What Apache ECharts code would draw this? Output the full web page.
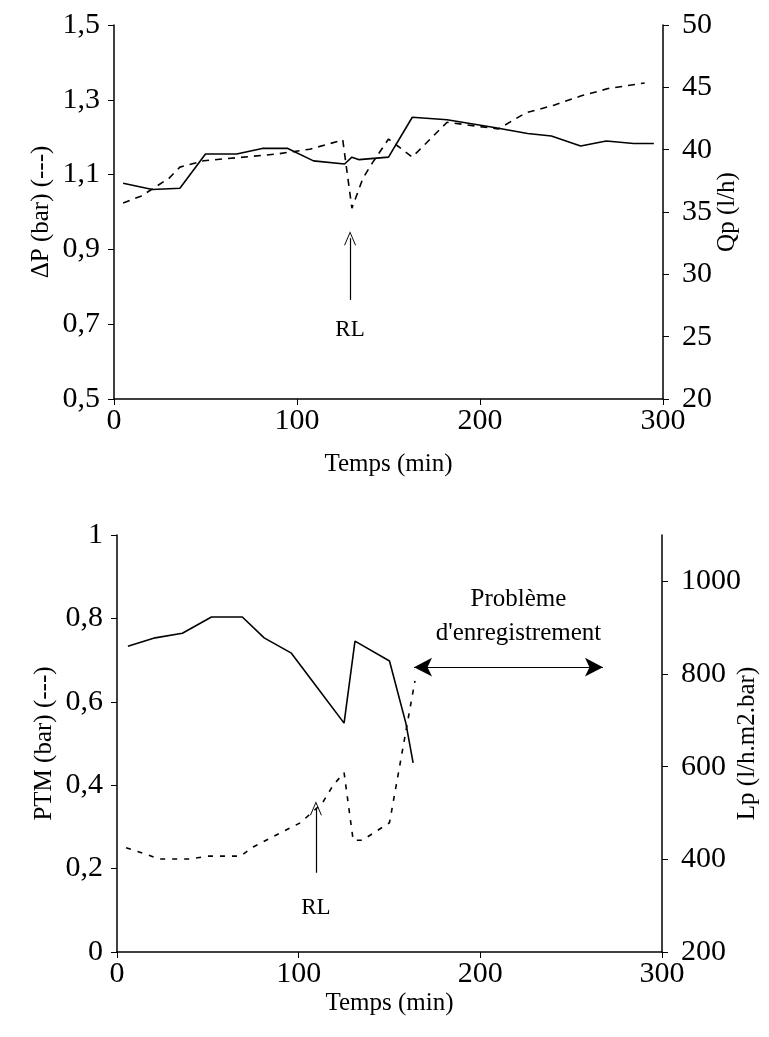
<!DOCTYPE html>
<html>
<head>
<meta charset="utf-8">
<script src="https://cdn.jsdelivr.net/npm/echarts@6/dist/echarts.min.js"></script>
<style>
  html, body { margin: 0; padding: 0; background: #fff; }
  #chart { width: 769px; height: 1037px; }
</style>
</head>
<body>
<div id="chart"></div>
<script>
// graphe du haut : deltaP (pointillé, axe gauche) et Qp (trait plein, axe droit)
var tpsDP = [5, 15, 30, 36, 49, 89, 107, 116, 125, 130, 136, 141, 150, 163, 182, 210, 225, 240, 255, 270, 290];
var dP = [1.024, 1.043, 1.09, 1.12, 1.137, 1.155, 1.168, 1.18, 1.193, 1.01, 1.09, 1.13, 1.195, 1.147, 1.24, 1.222, 1.265, 1.285, 1.31, 1.33, 1.345];

var tpsQp = [5, 21, 36, 50, 67, 81, 95, 109, 126, 130, 134, 150, 163, 182, 207, 226, 239, 255, 269, 284, 295];
var qp = [37.3, 36.8, 36.9, 39.65, 39.65, 40.1, 40.1, 39.1, 38.85, 39.4, 39.2, 39.4, 42.6, 42.4, 41.8, 41.3, 41.1, 40.3, 40.7, 40.5, 40.5];

// graphe du bas : PTM (pointillé, axe gauche) et Lp (trait plein, axe droit)
var tpsPTM = [5, 17, 23, 40, 50, 68, 75, 91, 101, 113, 119, 125, 130, 135, 150, 164];
var ptm = [0.25, 0.233, 0.223, 0.223, 0.23, 0.23, 0.252, 0.288, 0.31, 0.357, 0.40, 0.43, 0.268, 0.268, 0.31, 0.65];

var tpsLp = [6, 21, 36, 52, 69, 81, 96, 110, 125, 131, 150, 159, 163];
var lp = [860, 878, 888, 923, 923, 878, 845, 772, 694, 871, 828, 694, 608];

// graduations
var ticksDP = [0.5, 0.7, 0.9, 1.1, 1.3, 1.5];
var ticksQp = [20, 25, 30, 35, 40, 45, 50];
var ticksPTM = [0, 0.2, 0.4, 0.6, 0.8, 1];
var ticksLp = [200, 400, 600, 800, 1000];

function paires(xs, ys) {
  return xs.map(function (x, i) { return [x, ys[i]]; });
}

var police = 'Liberation Serif';
var virgule = function (v) { return String(v).replace('.', ','); };
var chevron = 'path://M0,12 L6,0 L12,12 L11,12 L6,2 L1,12 Z';

function axeX(grid, nameGap) {
  return {
    type: 'value', gridIndex: grid, min: 0, max: 300, interval: 100,
    name: 'Temps (min)', nameLocation: 'middle', nameGap: nameGap, nameMoveOverlap: false,
    nameTextStyle: { color: '#000', fontFamily: police, fontSize: 25 },
    axisLine: { lineStyle: { color: '#000', width: 1.5 } },
    axisTick: { length: 6, lineStyle: { color: '#000' } },
    axisLabel: { color: '#000', fontFamily: police, fontSize: 30, margin: 7 },
    splitLine: { show: false }
  };
}

function axeY(grid, pos, nom, min, max, ticks, nameGap, margin) {
  return {
    type: 'value', gridIndex: grid, position: pos, min: min, max: max,
    name: nom, nameLocation: 'middle', nameRotate: 90, nameGap: nameGap, nameMoveOverlap: false,
    nameTextStyle: { color: '#000', fontFamily: police, fontSize: 25 },
    axisLine: { show: true, lineStyle: { color: '#000', width: 1.5 } },
    axisTick: { show: true, length: 6, customValues: ticks, lineStyle: { color: '#000' } },
    axisLabel: { color: '#000', fontFamily: police, fontSize: 30, margin: margin,
                 customValues: ticks, formatter: virgule },
    splitLine: { show: false }
  };
}

var myChart = echarts.init(document.getElementById('chart'));

var option = {
  backgroundColor: '#fff',
  animation: false,
  grid: [
    { left: 114, top: 25, width: 549, height: 374, outerBoundsMode: 'none' },
    { left: 117, top: 535, width: 545, height: 417, outerBoundsMode: 'none' }
  ],
  xAxis: [axeX(0, 53), axeX(1, 39)],
  yAxis: [
    axeY(0, 'left', 'ΔP (bar) (---)', 0.5, 1.5, ticksDP, 60, 14),
    axeY(0, 'right', 'Qp (l/h)', 20, 50, ticksQp, 52, 19),
    axeY(1, 'left', 'PTM (bar) (---)', 0, 1, ticksPTM, 60, 14),
    axeY(1, 'right', 'Lp (l/h.m2.bar)', 200, 1100, ticksLp, 73, 19)
  ],
  series: [
    {
      name: 'ΔP', type: 'line', xAxisIndex: 0, yAxisIndex: 0,
      data: paires(tpsDP, dP), showSymbol: false,
      lineStyle: { color: '#000', width: 1.6, type: [7, 6] },
      markLine: {
        silent: true, symbolSize: [12, 14],
        lineStyle: { color: '#000', width: 1.2, type: 'solid' },
        label: { show: false },
        data: [[{ coord: [129, 0.765], symbol: 'none' }, { coord: [129, 0.93], symbol: chevron }]]
      },
      markPoint: {
        silent: true, symbol: 'circle', symbolSize: 0,
        label: { show: true, formatter: 'RL', color: '#000', fontFamily: police, fontSize: 23 },
        data: [{ coord: [129, 0.685] }]
      }
    },
    {
      name: 'Qp', type: 'line', xAxisIndex: 0, yAxisIndex: 1,
      data: paires(tpsQp, qp), showSymbol: false,
      lineStyle: { color: '#000', width: 1.6 }
    },
    {
      name: 'PTM', type: 'line', xAxisIndex: 1, yAxisIndex: 2,
      data: paires(tpsPTM, ptm), showSymbol: false,
      lineStyle: { color: '#000', width: 1.6, type: [5, 7] },
      markLine: {
        silent: true,
        lineStyle: { color: '#000', width: 1.2, type: 'solid' },
        label: { show: false },
        data: [
          [{ coord: [109.5, 0.19], symbol: 'none' }, { coord: [109.5, 0.345], symbol: chevron, symbolSize: [12, 14] }],
          [{ coord: [163.5, 0.683], symbol: 'arrow', symbolSize: [14, 18] }, { coord: [267.5, 0.683], symbol: 'arrow', symbolSize: [14, 18] }]
        ]
      },
      markPoint: {
        silent: true, symbol: 'circle', symbolSize: 0,
        label: { show: true, color: '#000', fontFamily: police, fontSize: 25, lineHeight: 34, align: 'center' },
        data: [
          { coord: [109.5, 0.105], label: { formatter: 'RL', fontSize: 23 } },
          { coord: [221, 0.805], label: { formatter: 'Problème\nd\'enregistrement' } }
        ]
      }
    },
    {
      name: 'Lp', type: 'line', xAxisIndex: 1, yAxisIndex: 3,
      data: paires(tpsLp, lp), showSymbol: false,
      lineStyle: { color: '#000', width: 1.6 }
    }
  ]
};

myChart.setOption(option);
</script>
</body>
</html>
